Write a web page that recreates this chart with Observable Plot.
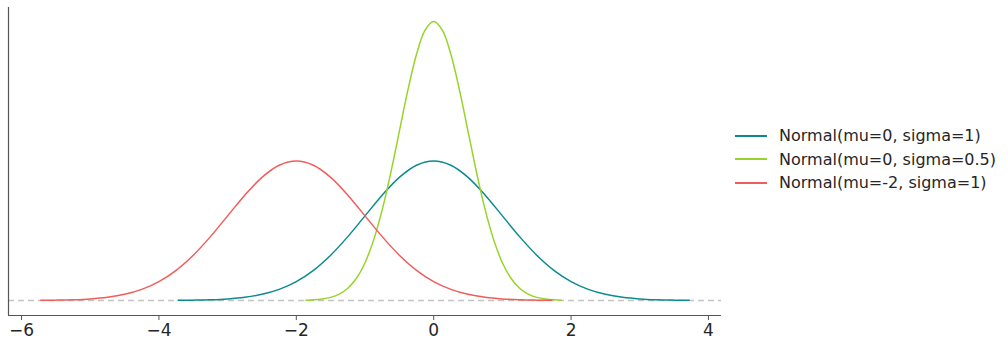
<!DOCTYPE html>
<html>
<head>
<meta charset="utf-8">
<script src="https://cdn.jsdelivr.net/npm/d3@7"></script>
<script src="https://cdn.jsdelivr.net/npm/@observablehq/plot@0.6"></script>
<style>
  body { margin: 0; background: #fff; }
  #wrap { position: relative; width: 1008px; height: 347px; font-family: "DejaVu Sans", sans-serif; }
  #legend { position: absolute; left: 735px; top: 124px; font-size: 16px; color: #262626; }
  .row { display: flex; align-items: center; height: 23.5px; }
  .sw { width: 32px; height: 0; border-top: 2px solid; margin-right: 12px; }
</style>
</head>
<body>
<div id="wrap"><div id="legend"></div></div>
<script>
const labels = ["Normal(mu=0, sigma=1)", "Normal(mu=0, sigma=0.5)", "Normal(mu=-2, sigma=1)"];
const colors = ["#0b8a8f", "#97d42a", "#f05d5a"];
const xTicks = [-6, -4, -2, 0, 2, 4];

const tealX = [-3.72,-3.5,-3.25,-3,-2.75,-2.5,-2.25,-2,-1.75,-1.5,-1.25,-1,-0.75,-0.5,-0.25,0,0.25,0.5,0.75,1,1.25,1.5,1.75,2,2.25,2.5,2.75,3,3.25,3.5,3.72];
const tealY = [0.0004,0.0009,0.0020,0.0044,0.0091,0.0175,0.0317,0.0540,0.0863,0.1295,0.1826,0.2420,0.3011,0.3521,0.3867,0.3989,0.3867,0.3521,0.3011,0.2420,0.1826,0.1295,0.0863,0.0540,0.0317,0.0175,0.0091,0.0044,0.0020,0.0009,0.0004];

const greenX = [-1.86,-1.75,-1.625,-1.5,-1.375,-1.25,-1.125,-1,-0.875,-0.75,-0.625,-0.5,-0.375,-0.25,-0.125,0,0.125,0.25,0.375,0.5,0.625,0.75,0.875,1,1.125,1.25,1.375,1.5,1.625,1.75,1.86];
const greenY = [0.0008,0.0017,0.0041,0.0089,0.0182,0.0350,0.0634,0.1080,0.1726,0.2590,0.3653,0.4839,0.6022,0.7041,0.7734,0.7979,0.7734,0.7041,0.6022,0.4839,0.3653,0.2590,0.1726,0.1080,0.0634,0.0350,0.0182,0.0089,0.0041,0.0017,0.0008];

const redX = [-5.72,-5.5,-5.25,-5,-4.75,-4.5,-4.25,-4,-3.75,-3.5,-3.25,-3,-2.75,-2.5,-2.25,-2,-1.75,-1.5,-1.25,-1,-0.75,-0.5,-0.25,0,0.25,0.5,0.75,1,1.25,1.5,1.72];
const redY = [0.0004,0.0009,0.0020,0.0044,0.0091,0.0175,0.0317,0.0540,0.0863,0.1295,0.1826,0.2420,0.3011,0.3521,0.3867,0.3989,0.3867,0.3521,0.3011,0.2420,0.1826,0.1295,0.0863,0.0540,0.0317,0.0175,0.0091,0.0044,0.0020,0.0009,0.0004];

const series = [[tealX, tealY], [greenX, greenY], [redX, redY]];
const data = series.flatMap(([xs, ys], i) => xs.map((x, j) => ({x, y: ys[j], s: labels[i]})));

const xDom = [-6.19, 4.19];
const yDom = [-0.043, 0.838];

const chart = Plot.plot({
  width: 722,
  height: 347,
  marginLeft: 8,
  marginRight: 1,
  marginTop: 7,
  marginBottom: 32,
  style: { fontFamily: "DejaVu Sans, sans-serif", fontSize: "17px", color: "#262626", background: "#fff" },
  x: { domain: xDom, ticks: xTicks, tickSize: 5, label: null },
  y: { domain: yDom, axis: null },
  color: { domain: labels, range: colors },
  marks: [
    Plot.ruleY([0], { stroke: "#c4c4c4", strokeWidth: 1.5, strokeDasharray: "6,4" }),
    Plot.line(data, { x: "x", y: "y", z: "s", stroke: "s", strokeWidth: 1.5, curve: "catmull-rom" }),
    Plot.ruleX([xDom[0]], { stroke: "#555", strokeWidth: 1.2 }),
    Plot.ruleY([yDom[0]], { stroke: "#555", strokeWidth: 1.2 }),
    Plot.axisX({ ticks: xTicks, tickSize: 5, tickPadding: 3, stroke: "#555", fontSize: 17, fill: "#262626", label: null })
  ]
});
const wrap = document.getElementById("wrap");
wrap.insertBefore(chart, wrap.firstChild);

const legend = document.getElementById("legend");
labels.forEach((l, i) => {
  const row = document.createElement("div");
  row.className = "row";
  const sw = document.createElement("div");
  sw.className = "sw";
  sw.style.borderColor = colors[i];
  const t = document.createElement("span");
  t.textContent = l;
  row.appendChild(sw); row.appendChild(t);
  legend.appendChild(row);
});
</script>
</body>
</html>
